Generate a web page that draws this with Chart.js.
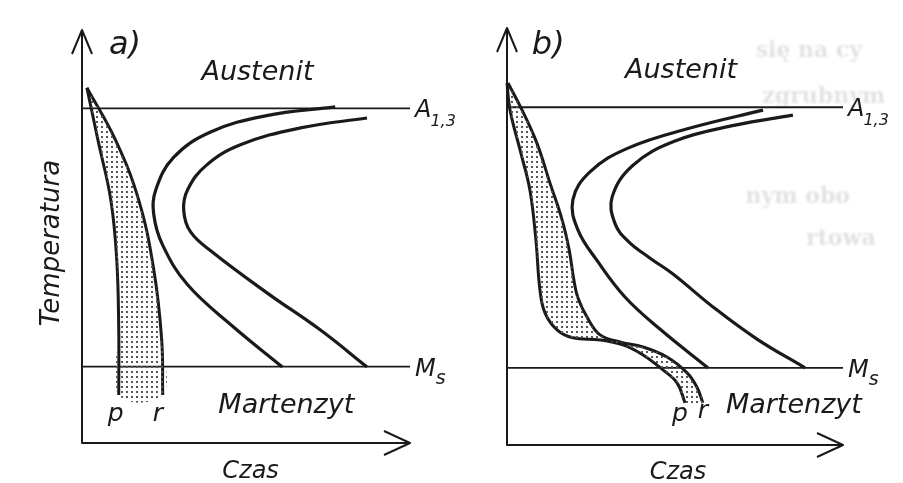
<!DOCTYPE html>
<html>
<head>
<meta charset="utf-8">
<script src="https://cdn.jsdelivr.net/npm/chart.js@4.4.1/dist/chart.umd.min.js"></script>
<style>
    html, body { margin: 0; padding: 0; background: #fff; }
    #wrap { position: relative; width: 903px; height: 483px; overflow: hidden; }
    canvas { position: absolute; top: 0; }
    #wykresA { left: 0; }
    #wykresB { left: 470px; }
</style>
</head>
<body>
<div id="wrap">
    <canvas id="wykresA" width="490" height="483"></canvas>
    <canvas id="wykresB" width="433" height="483"></canvas>
</div>
<script>
// ========== DANE (skala umowna: czas 0-100, temperatura 0-100) ==========
const poziomA13 = 81;
const poziomMs = 18.5;
const koniecLinii = 100;

// wykres a) - [czas, temperatura]
const aKrzywaP = [[1.5, 86.0], [4.9, 73.2], [8.8, 58.8], [10.6, 44.3], [11.2, 27.4], [11.2, 11.6]];
const aKrzywaR = [[1.5, 86.0], [10.3, 73.2], [17.3, 58.8], [21.9, 41.9], [24.3, 24.9], [24.6, 11.6]];
const aPoczatek = [[77.2, 81.4], [55.9, 79.2], [39.2, 75.3], [28.0, 69.2], [22.5, 61.3], [21.9, 55.2], [24.6, 47.9], [32.2, 38.3], [46.2, 28.1], [61.1, 18.4]];
const aKoniec = [[86.9, 78.7], [66.6, 76.3], [48.3, 72.2], [37.7, 67.1], [32.2, 61.3], [31.0, 56.4], [33.1, 51.1], [40.1, 46.0], [56.5, 36.3], [72.6, 27.4], [86.9, 18.4]];

// wykres b)
const bKrzywaP = [[0, 86.8], [0.9, 80.3], [3.9, 70.7], [6.8, 61.2], [8.6, 49.2], [9.8, 37.2], [11.3, 31.7], [14.9, 27.6], [19.6, 25.7], [27.7, 25.2], [34.5, 24.0], [40.5, 21.6], [46.4, 18.0], [50.6, 14.9], [53.0, 10.1]];
const bKrzywaR = [[0.3, 86.8], [4.5, 80.3], [8.9, 72.4], [12.8, 62.8], [16.4, 54.0], [18.5, 46.8], [19.9, 39.6], [21.1, 35.3], [23.8, 30.7], [27.7, 26.4], [33.6, 24.7], [40.5, 23.5], [47.6, 21.1], [53.6, 17.3], [56.5, 13.9], [58.3, 10.1]];
const bPoczatek = [[76.2, 80.3], [54.5, 76.0], [36.0, 71.2], [24.7, 65.5], [19.6, 58.8], [21.1, 51.6], [27.1, 43.9], [35.1, 35.5], [45.5, 27.8], [59.8, 18.5]];
const bKoniec = [[85.1, 79.1], [67.9, 76.7], [50.0, 72.9], [37.5, 67.1], [31.3, 59.5], [32.1, 53.2], [36.0, 48.9], [42.6, 44.8], [49.4, 41.0], [61.3, 33.1], [74.4, 25.4], [88.7, 18.5]];

const TUSZ = "#1a1a1a";
const FONT = '"DejaVu Sans"';

// ========== WZÓR KROPEK ==========
function wzorKropek() {
    const c = document.createElement("canvas");
    c.width = 5;
    c.height = 5;
    const g = c.getContext("2d");
    g.fillStyle = "#555";
    g.fillRect(1, 1, 2, 2);
    return g.createPattern(c, "repeat");
}
const kropki = wzorKropek();

function punkty(lista) {
    return lista.map(([x, y]) => ({ x, y }));
}

function linia(dane, szer, napiecie) {
    return {
        data: punkty(dane),
        showLine: true,
        borderColor: TUSZ,
        borderWidth: szer,
        tension: napiecie,
        pointRadius: 0,
        fill: false,
        clip: false,
    };
}

function zbiory(p, r, c1, c2) {
    return [
        {
            data: punkty(p.concat(r.slice().reverse())),
            showLine: true,
            borderColor: "rgba(0,0,0,0)",
            borderWidth: 1,
            backgroundColor: kropki,
            fill: "shape",
            tension: 0.4,
            pointRadius: 0,
        },
        linia(p, 3, 0.4),
        linia(r, 3, 0.4),
        linia(c1, 3.2, 0.4),
        linia(c2, 3.2, 0.4),
        linia([[0, poziomA13], [koniecLinii, poziomA13]], 1.8, 0),
        linia([[0, poziomMs], [koniecLinii, poziomMs]], 1.8, 0),
    ];
}

// ========== OSIE I NAPISY ==========
function opisy(teksty, duchy) {
    return {
        id: "opisy",
        beforeDatasetsDraw(chart) {
            const { ctx, scales: { x, y } } = chart;
            ctx.save();
            ctx.fillStyle = "#e2e2e2";
            ctx.filter = "blur(1px)";
            ctx.textAlign = "left";
            for (const d of duchy) {
                ctx.font = `bold 22px "DejaVu Serif"`;
                ctx.fillText(d.t, x.getPixelForValue(d.x), y.getPixelForValue(d.y));
            }
            ctx.restore();
        },
        afterDatasetsDraw(chart) {
            const { ctx, chartArea: ca, scales: { x, y } } = chart;
            ctx.save();
            ctx.strokeStyle = TUSZ;
            ctx.lineWidth = 2;
            ctx.lineJoin = "round";
            ctx.beginPath();
            ctx.moveTo(ca.left, ca.top);
            ctx.lineTo(ca.left, ca.bottom);
            ctx.lineTo(ca.right, ca.bottom);
            ctx.moveTo(ca.left - 10, ca.top + 24);
            ctx.lineTo(ca.left, ca.top);
            ctx.lineTo(ca.left + 10, ca.top + 24);
            ctx.moveTo(ca.right - 26, ca.bottom - 12);
            ctx.lineTo(ca.right, ca.bottom);
            ctx.lineTo(ca.right - 26, ca.bottom + 12);
            ctx.stroke();

            ctx.fillStyle = TUSZ;
            for (const t of teksty) {
                ctx.font = `oblique ${t.size}px ${FONT}`;
                ctx.textAlign = t.align || "center";
                const px = x.getPixelForValue(t.x);
                const py = y.getPixelForValue(t.y);
                if (t.obrot) {
                    ctx.save();
                    ctx.translate(px, py);
                    ctx.rotate(-Math.PI / 2);
                    ctx.fillText(t.t, 0, 0);
                    ctx.restore();
                } else {
                    ctx.fillText(t.t, px, py);
                }
            }

            // A1,3 i Ms z indeksami dolnymi
            const xl = x.getPixelForValue(koniecLinii) + 5;
            const ya = y.getPixelForValue(poziomA13);
            const ym = y.getPixelForValue(poziomMs);
            ctx.textAlign = "left";
            ctx.font = `oblique 24px ${FONT}`;
            ctx.fillText("A", xl, ya + 9);
            const wa = ctx.measureText("A").width;
            ctx.fillText("M", xl, ym + 9);
            const wm = ctx.measureText("M").width;
            ctx.font = `oblique 16px ${FONT}`;
            ctx.fillText("1,3", xl + wa - 1, ya + 18);
            ctx.font = `oblique 19px ${FONT}`;
            ctx.fillText("s", xl + wm, ym + 17);
            ctx.restore();
        },
    };
}

function wykres(id, dane, padding, teksty, duchy) {
    return new Chart(document.getElementById(id), {
        type: "scatter",
        data: { datasets: dane },
        options: {
            responsive: false,
            animation: false,
            devicePixelRatio: 1,
            layout: { padding },
            plugins: {
                legend: { display: false },
                tooltip: { enabled: false },
            },
            scales: {
                x: { type: "linear", min: 0, max: 100, display: false },
                y: { type: "linear", min: 0, max: 100, display: false },
            },
        },
        plugins: [opisy(teksty, duchy)],
    });
}

// ========== WYKRES a) ==========
wykres(
    "wykresA",
    zbiory(aKrzywaP, aKrzywaR, aPoczatek, aKoniec),
    { left: 82, right: 80, top: 30, bottom: 40 },
    [
        { t: "a)", x: 8.2, y: 94.2, size: 32, align: "left" },
        { t: "Austenit", x: 53.5, y: 87.9, size: 27 },
        { t: "Martenzyt", x: 62.3, y: 7.3, size: 27 },
        { t: "p", x: 10.3, y: 5.3, size: 25 },
        { t: "r", x: 23.1, y: 5.3, size: 25 },
        { t: "Czas", x: 51.4, y: -8.5, size: 24 },
        { t: "Temperatura", x: -6.9, y: 48.4, size: 26, obrot: true },
    ],
    [],
);

// ========== WYKRES b) ==========
wykres(
    "wykresB",
    zbiory(bKrzywaP, bKrzywaR, bPoczatek, bKoniec),
    { left: 37, right: 60, top: 28, bottom: 38 },
    [
        { t: "b)", x: 7.4, y: 93.8, size: 32, align: "left" },
        { t: "Austenit", x: 51.8, y: 88.0, size: 27 },
        { t: "Martenzyt", x: 85.4, y: 7.7, size: 27 },
        { t: "p", x: 51.5, y: 5.8, size: 25 },
        { t: "r", x: 58.3, y: 6.5, size: 25 },
        { t: "Czas", x: 50.9, y: -8.2, size: 24 },
    ],
    [
        { t: "się na cy", x: 74, y: 93 },
        { t: "zgrubnym", x: 76, y: 82 },
        { t: "nym obo", x: 71, y: 58 },
        { t: "rtowa", x: 89, y: 48 },
    ],
);
</script>
</body>
</html>
